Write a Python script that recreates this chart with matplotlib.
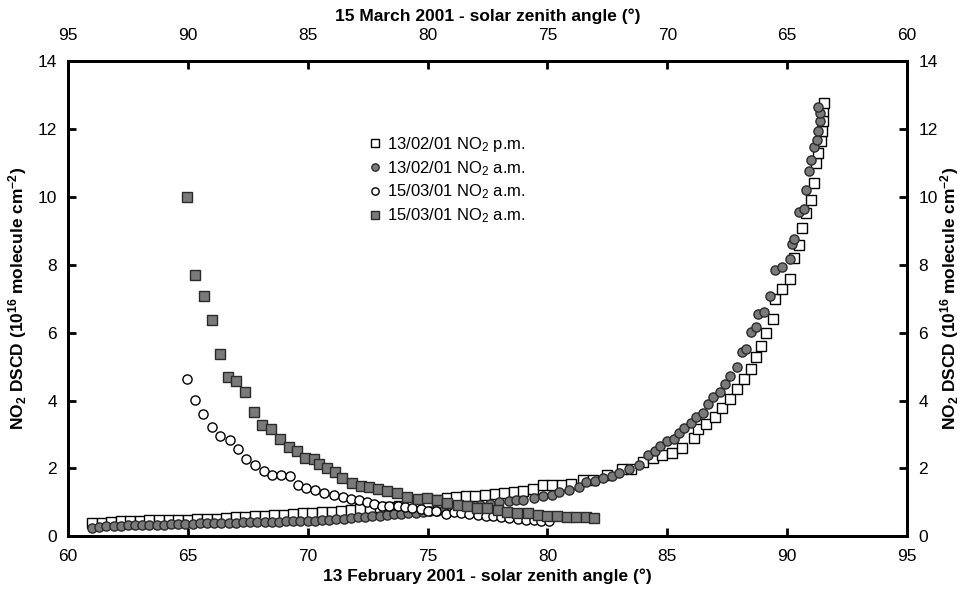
import matplotlib
matplotlib.use("Agg")
import matplotlib.pyplot as plt

plt.rcParams['font.family'] = ['Liberation Sans', 'DejaVu Sans']
plt.rcParams['mathtext.fontset'] = 'custom'
plt.rcParams['mathtext.rm'] = 'Liberation Sans'
plt.rcParams['mathtext.it'] = 'Liberation Sans'
plt.rcParams['mathtext.bf'] = 'Liberation Sans:bold'

# ---- 13 Feb 2001, p.m. (open squares), bottom axis SZA ----
feb_pm_sza = [61.0, 61.4, 61.8, 62.2, 62.6, 63.0, 63.4, 63.8, 64.2, 64.6, 65.0, 65.4, 65.8,
              66.2, 66.6, 67.0, 67.4, 67.8, 68.2, 68.6, 69.0, 69.4, 69.8, 70.2, 70.6, 71.0,
              71.4, 71.8, 72.2, 72.6, 73.0, 73.4, 73.8, 74.2, 74.6, 75.0, 75.4, 75.8, 76.2,
              76.6, 77.0, 77.4, 77.8, 78.2, 78.6, 79.0, 79.4, 79.8, 80.2, 80.6, 81.0, 81.5,
              81.9, 82.5, 83.1, 83.5, 84.0, 84.4, 84.8, 85.2, 85.6, 86.1, 86.3, 86.6, 87.0,
              87.3, 87.6, 87.9, 88.2, 88.5, 88.7, 88.9, 89.1, 89.4, 89.5, 89.8, 90.1, 90.3,
              90.5, 90.6, 90.8, 91.0, 91.1, 91.2, 91.3, 91.4, 91.45, 91.5, 91.5, 91.55]
feb_pm_no2 = [0.38, 0.40, 0.42, 0.44, 0.46, 0.46, 0.47, 0.47, 0.48, 0.48, 0.49, 0.50, 0.50,
              0.51, 0.53, 0.56, 0.58, 0.59, 0.60, 0.62, 0.64, 0.66, 0.68, 0.70, 0.71, 0.72,
              0.74, 0.78, 0.82, 0.84, 0.86, 0.88, 0.90, 0.94, 0.98, 1.02, 1.06, 1.12, 1.16,
              1.18, 1.20, 1.22, 1.26, 1.28, 1.30, 1.34, 1.40, 1.50, 1.52, 1.50, 1.55, 1.67,
              1.67, 1.80, 1.97, 1.97, 2.20, 2.31, 2.41, 2.46, 2.61, 2.90, 3.15, 3.30, 3.53,
              3.79, 4.04, 4.33, 4.63, 4.93, 5.27, 5.62, 6.00, 6.40, 7.00, 7.29, 7.59, 8.20,
              8.59, 9.07, 9.51, 9.91, 10.40, 11.00, 11.29, 11.63, 11.93, 12.22, 12.52, 12.77]

# ---- 13 Feb 2001, a.m. (grey circles), bottom axis SZA ----
feb_am_sza = [61.0, 61.3, 61.6, 61.9, 62.2, 62.5, 62.8, 63.1, 63.4, 63.7, 64.0, 64.3, 64.6,
              64.9, 65.2, 65.5, 65.8, 66.1, 66.4, 66.7, 67.0, 67.3, 67.6, 67.9, 68.2, 68.5,
              68.8, 69.1, 69.4, 69.7, 70.0, 70.3, 70.6, 70.9, 71.2, 71.5, 71.8, 72.1, 72.4,
              72.7, 73.0, 73.3, 73.6, 73.9, 74.2, 74.5, 74.8, 75.1, 75.4, 75.7, 76.0, 76.3,
              76.6, 76.9, 77.2, 77.6, 78.0, 78.4, 78.7, 79.0, 79.45, 79.8, 80.2, 80.5, 80.9,
              81.3, 81.6, 82.0, 82.3, 82.7, 83.0, 83.4, 83.8, 84.2, 84.5, 84.7, 85.0, 85.3,
              85.5, 85.7, 86.0, 86.2, 86.5, 86.7, 86.9, 87.2, 87.4, 87.6, 87.9, 88.1, 88.3,
              88.5, 88.7, 88.8, 89.05, 89.3, 89.5, 89.8, 90.1, 90.2, 90.3, 90.5, 90.7, 90.8,
              90.9, 91.0, 91.1, 91.25, 91.3, 91.35, 91.35, 91.3]
feb_am_no2 = [0.26, 0.28, 0.30, 0.31, 0.32, 0.33, 0.33, 0.34, 0.34, 0.35, 0.35, 0.36, 0.36,
              0.37, 0.37, 0.38, 0.38, 0.39, 0.39, 0.40, 0.40, 0.41, 0.41, 0.42, 0.42, 0.43,
              0.43, 0.44, 0.44, 0.45, 0.45, 0.46, 0.47, 0.48, 0.50, 0.52, 0.54, 0.56, 0.58,
              0.60, 0.61, 0.63, 0.65, 0.66, 0.68, 0.70, 0.72, 0.74, 0.76, 0.78, 0.80, 0.82,
              0.85, 0.88, 0.92, 0.96, 1.00, 1.03, 1.06, 1.08, 1.13, 1.18, 1.23, 1.30, 1.38,
              1.46, 1.59, 1.62, 1.72, 1.79, 1.87, 1.97, 2.09, 2.41, 2.51, 2.66, 2.80, 2.86,
              3.03, 3.20, 3.33, 3.53, 3.64, 3.89, 4.09, 4.24, 4.48, 4.71, 4.98, 5.44, 5.52,
              6.01, 6.17, 6.55, 6.62, 7.08, 7.83, 7.93, 8.18, 8.62, 8.77, 9.56, 9.64, 10.20,
              10.75, 11.09, 11.46, 11.68, 11.95, 12.22, 12.47, 12.64]

# ---- 15 Mar 2001, a.m. (open circles), top axis SZA ----
mar_open_sza = [90.05, 89.68, 89.35, 89.01, 88.67, 88.24, 87.89, 87.56, 87.20, 86.82, 86.47,
                86.13, 85.74, 85.40, 85.05, 84.71, 84.32, 83.90, 83.51, 83.18, 82.86, 82.54,
                82.23, 81.92, 81.61, 81.25, 80.95, 80.63, 80.28, 79.98, 79.66, 79.24, 78.89,
                78.61, 78.27, 77.91, 77.57, 77.25, 76.94, 76.60, 76.24, 75.90, 75.55, 75.27,
                74.92]
mar_open_no2 = [4.63, 4.01, 3.59, 3.23, 2.97, 2.83, 2.56, 2.29, 2.10, 1.92, 1.82, 1.82, 1.77,
                1.52, 1.43, 1.36, 1.28, 1.23, 1.16, 1.11, 1.08, 1.00, 0.96, 0.90, 0.90, 0.90,
                0.86, 0.83, 0.80, 0.76, 0.75, 0.67, 0.73, 0.70, 0.67, 0.64, 0.61, 0.59, 0.57,
                0.54, 0.51, 0.49, 0.47, 0.44, 0.46]

# ---- 15 Mar 2001, a.m. (grey squares), top axis SZA ----
mar_fill_sza = [90.05, 89.68, 89.34, 89.00, 88.66, 88.31, 87.98, 87.63, 87.26, 86.89, 86.52,
                86.16, 85.80, 85.46, 85.11, 84.75, 84.52, 84.18, 83.88, 83.56, 83.14, 82.79,
                82.44, 82.07, 81.70, 81.26, 80.84, 80.40, 80.01, 79.62, 79.17, 78.75, 78.34,
                77.92, 77.50, 77.08, 76.67, 76.25, 75.83, 75.41, 75.00, 74.60, 74.20, 73.80,
                73.40, 73.05]
mar_fill_no2 = [9.98, 7.69, 7.07, 6.36, 5.37, 4.70, 4.58, 4.25, 3.67, 3.27, 3.15, 2.88, 2.64,
                2.51, 2.31, 2.28, 2.14, 2.02, 1.89, 1.72, 1.57, 1.49, 1.46, 1.40, 1.33, 1.28,
                1.16, 1.11, 1.13, 1.08, 0.98, 0.93, 0.90, 0.83, 0.83, 0.78, 0.73, 0.70, 0.69,
                0.64, 0.61, 0.59, 0.57, 0.57, 0.56, 0.54]

labels = ['13/02/01 NO$_2$ p.m.', '13/02/01 NO$_2$ a.m.',
          '15/03/01 NO$_2$ a.m.', '15/03/01 NO$_2$ a.m.']
bottom_ticks = [60, 65, 70, 75, 80, 85, 90, 95]
top_ticks = [95, 90, 85, 80, 75, 70, 65, 60]
y_ticks = [0, 2, 4, 6, 8, 10, 12, 14]

grey = '#7a7a7a'
edge_dark = '#2a2a2a'

fig = plt.figure(figsize=(9.68, 5.97), dpi=100)
ax = fig.add_axes([0.0702, 0.1015, 0.8668, 0.7965])
ax2 = ax.twiny()

ms_sq = 6.6
ms_ci = 6.6
h1, = ax.plot(feb_pm_sza, feb_pm_no2, 's', ms=ms_sq, mfc='white', mec='black', mew=1.0, ls='none')
h2, = ax.plot(feb_am_sza, feb_am_no2, 'o', ms=ms_ci, mfc=grey, mec=edge_dark, mew=1.0, ls='none')
h3, = ax2.plot(mar_open_sza, mar_open_no2, 'o', ms=ms_ci, mfc='white', mec='black', mew=1.0, ls='none')
h4, = ax2.plot(mar_fill_sza, mar_fill_no2, 's', ms=ms_sq, mfc=grey, mec=edge_dark, mew=1.0, ls='none')

ax.set_xlim(60, 95)
ax.set_ylim(0, 14)
ax2.set_xlim(95, 60)
ax2.set_ylim(0, 14)

ax.set_xticks(bottom_ticks)
ax2.set_xticks(top_ticks)
ax.set_yticks(y_ticks)

for a in (ax, ax2):
    for s in a.spines.values():
        s.set_linewidth(2.0)

ax.tick_params(axis='x', direction='in', length=6, width=2, labelsize=12.5, pad=9, top=False)
ax.tick_params(axis='y', direction='in', length=6, width=2, labelsize=12.5, pad=8,
               left=True, right=True, labelleft=True, labelright=True)
ax2.tick_params(axis='x', direction='in', length=6, width=2, labelsize=12.5, pad=13)

ax.set_xlabel('13 February 2001 - solar zenith angle (°)', fontsize=12.5, fontweight='bold', labelpad=3)
ax2.set_xlabel('15 March 2001 - solar zenith angle (°)', fontsize=12.5, fontweight='bold', labelpad=5)
ylab = r'NO$_\mathbf{2}$ DSCD (10$^\mathbf{16}$ molecule cm$^\mathbf{-2}$)'
ax.set_ylabel(ylab, fontsize=12.5, fontweight='bold', labelpad=6)
fig.text(0.981, 0.5, ylab, rotation=90, ha='center', va='center',
         fontsize=12.5, fontweight='bold')

ax2.legend([h1, h2, h3, h4], labels, loc='upper left', bbox_to_anchor=(0.372, 0.785),
           bbox_transform=fig.transFigure, frameon=False, fontsize=12,
           handletextpad=0.2, handlelength=1.0, labelspacing=0.3, markerscale=0.8,
           borderaxespad=0)

fig.savefig('out.png', dpi=100)
